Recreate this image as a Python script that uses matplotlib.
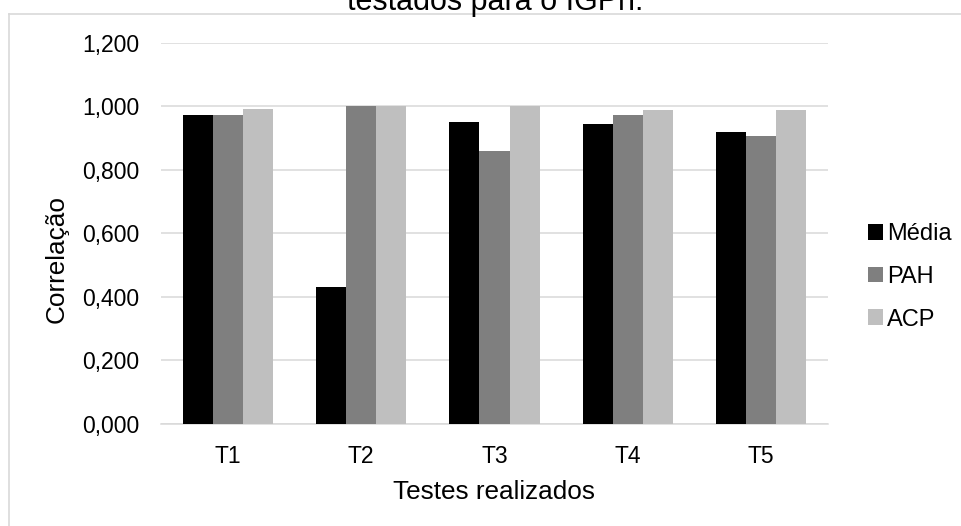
import numpy as np
import matplotlib
matplotlib.use('Agg')
import matplotlib.pyplot as plt
from matplotlib.patches import Patch
from matplotlib.lines import Line2D
from matplotlib.ticker import FuncFormatter

plt.rcParams['font.family'] = ['Liberation Sans', 'DejaVu Sans']

# dados
testes = ['T1', 'T2', 'T3', 'T4', 'T5']
media = [0.973, 0.432, 0.951, 0.943, 0.918]
pah = [0.973, 1.000, 0.859, 0.972, 0.906]
acp = [0.992, 1.000, 1.000, 0.988, 0.987]
series = ['Média', 'PAH', 'ACP']
cores = ['#000000', '#7f7f7f', '#bfbfbf']

W, H = 962, 526
fig = plt.figure(figsize=(W / 100, H / 100), dpi=100)
ax = fig.add_axes([161 / W, 1 - 424 / H, (828 - 161) / W, (424 - 42.7) / H])

x = np.arange(len(testes))
larg = 0.225
for k, (vals, cor) in enumerate(zip([media, pah, acp], cores)):
    ax.bar(x + (k - 1) * larg, vals, width=larg, color=cor, zorder=3)

ax.set_xlim(-0.5, len(testes) - 0.5)
ax.set_ylim(0, 1.2)
ax.set_yticks(np.arange(0, 1.21, 0.2))
ax.yaxis.set_major_formatter(FuncFormatter(lambda v, p: f'{v:.3f}'.replace('.', ',')))
ax.set_xticks(x)
ax.set_xticklabels(testes)
ax.tick_params(axis='both', length=0, labelsize=16.5)
ax.tick_params(axis='y', pad=15.8)
ax.tick_params(axis='x', pad=15)
ax.yaxis.grid(True, color='#d9d9d9', linewidth=1.1)
ax.set_axisbelow(True)
for s in ['top', 'right', 'left']:
    ax.spines[s].set_visible(False)
ax.spines['bottom'].set_color('#d9d9d9')
ax.spines['bottom'].set_linewidth(1.1)

fig.text(57 / W, 1 - 259 / H, 'Correlação', rotation=90, ha='center', va='center', fontsize=18.8)
fig.text(494 / W, 1 - 499 / H, 'Testes realizados', ha='center', va='baseline', fontsize=18.8)
fig.text(495 / W, 1 - 10 / H, 'testados para o IGPn.', ha='center', va='baseline', fontsize=22)

handles = [Patch(facecolor=c, edgecolor='none') for c in cores]
fig.legend(handles, series, loc='upper left', bbox_to_anchor=(868 / W, 1 - 223 / H),
           frameon=False, fontsize=17, handlelength=0.65, handleheight=0.65,
           handletextpad=0.15, labelspacing=0.88, borderpad=0, borderaxespad=0)

# moldura do gráfico (parcialmente cortada)
borda = '#d9d9d9'
fig.add_artist(Line2D([8.5 / W, 1], [1 - 13.7 / H, 1 - 13.7 / H], color=borda, linewidth=1.2))
fig.add_artist(Line2D([8.5 / W, 8.5 / W], [0, 1 - 13.7 / H], color=borda, linewidth=1.2))

fig.savefig('out.png', dpi=100)
